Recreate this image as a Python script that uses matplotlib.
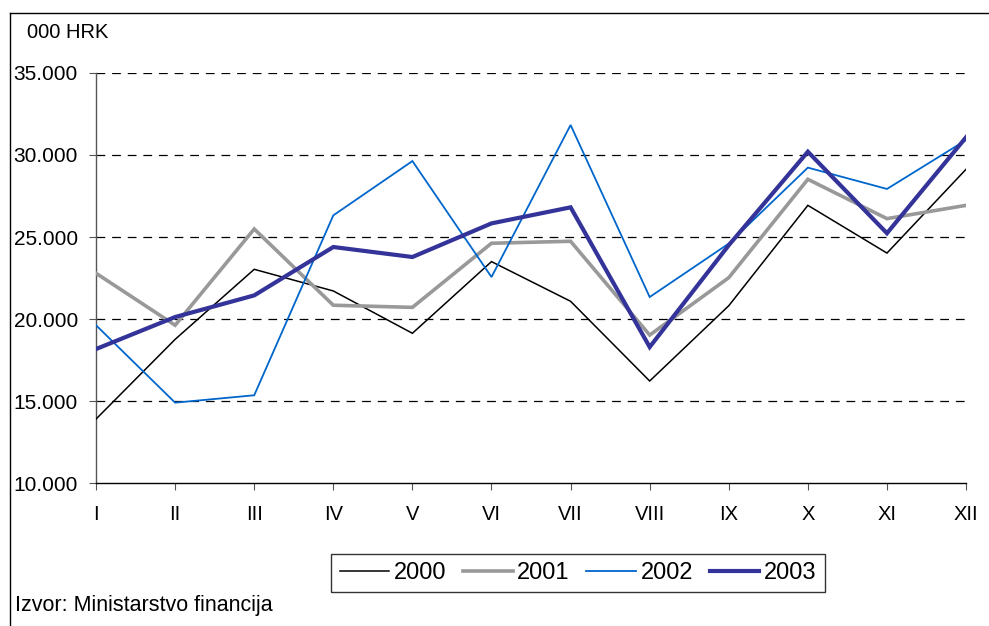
import matplotlib
matplotlib.use("Agg")
import matplotlib.pyplot as plt
from matplotlib.lines import Line2D
from matplotlib.ticker import FuncFormatter

plt.rcParams['font.family'] = ['Liberation Sans', 'DejaVu Sans']

months = ["I", "II", "III", "IV", "V", "VI", "VII", "VIII", "IX", "X", "XI", "XII"]
s2000 = [13900, 18760, 23030, 21710, 19130, 23500, 21080, 16220, 20810, 26930, 24020, 29130]
s2001 = [22790, 19620, 25490, 20840, 20710, 24620, 24740, 19020, 22520, 28520, 26120, 26930]
s2002 = [19620, 14900, 15350, 26320, 29630, 22560, 31830, 21340, 24600, 29230, 27930, 30910]
s2003 = [18170, 20120, 21440, 24390, 23780, 25830, 26810, 18290, 24500, 30200, 25230, 31080]
years = ["2000", "2001", "2002", "2003"]
yticks = [10000, 15000, 20000, 25000, 30000, 35000]

fig = plt.figure(figsize=(9.89, 6.26), dpi=100)
ax = fig.add_axes([0.0971, 0.2284, 0.8797, 0.6550])

x = list(range(len(months)))
styles = [
    (s2000, "#000000", 1.1),
    (s2001, "#999999", 2.6),
    (s2002, "#0066CC", 1.3),
    (s2003, "#333399", 3.0),
]
handles = []
for (vals, col, lw), lab in zip(styles, years):
    h, = ax.plot(x, vals, color=col, lw=lw, label=lab, solid_joinstyle='miter', zorder=3)
    handles.append(h)

ax.set_xlim(0, len(months) - 1)
ax.set_ylim(10000, 35000)
ax.set_yticks(yticks)
ax.yaxis.set_major_formatter(FuncFormatter(lambda v, p: f"{int(v):,}".replace(",", ".")))
ax.set_xticks(x)
ax.set_xticklabels(months)

for v in yticks[1:]:
    ax.axhline(v, color="black", lw=0.9, ls=(0, (7, 5.5)), zorder=1)

for s in ["top", "right"]:
    ax.spines[s].set_visible(False)
ax.spines["left"].set_color("#555555")
ax.spines["left"].set_linewidth(1.0)
ax.spines["bottom"].set_color("black")
ax.spines["bottom"].set_linewidth(1.0)
ax.tick_params(axis="y", direction="out", length=5, width=0.8, colors="#555555",
               labelcolor="black", labelsize=15, pad=8)
ax.tick_params(axis="x", direction="out", length=5, width=0.8, colors="#555555",
               labelcolor="black", labelsize=14.5, pad=11)

fig.text(27 / 989, 1 - 32 / 626, "000 HRK", fontsize=14.5, va="center", ha="left")
fig.text(15 / 989, 1 - 605 / 626, "Izvor: Ministarstvo financija", fontsize=15.5,
         va="center", ha="left")

leg = fig.legend(handles=handles, labels=years, loc="center",
                 bbox_to_anchor=(578 / 989, 1 - 573 / 626), ncol=4, fontsize=17,
                 frameon=True, fancybox=False, edgecolor="black", handlelength=2.1,
                 handletextpad=0.2, columnspacing=0.7, borderpad=0.35,
                 borderaxespad=0)
leg.get_frame().set_linewidth(1.0)

# figure frame (left and top edges visible)
fig.add_artist(Line2D([10 / 989, 10 / 989], [0, 1 - 13 / 626], color="black", lw=1.0,
                      transform=fig.transFigure))
fig.add_artist(Line2D([10 / 989, 1], [1 - 13 / 626, 1 - 13 / 626], color="black", lw=1.0,
                      transform=fig.transFigure))

fig.savefig("out.png", dpi=100)
